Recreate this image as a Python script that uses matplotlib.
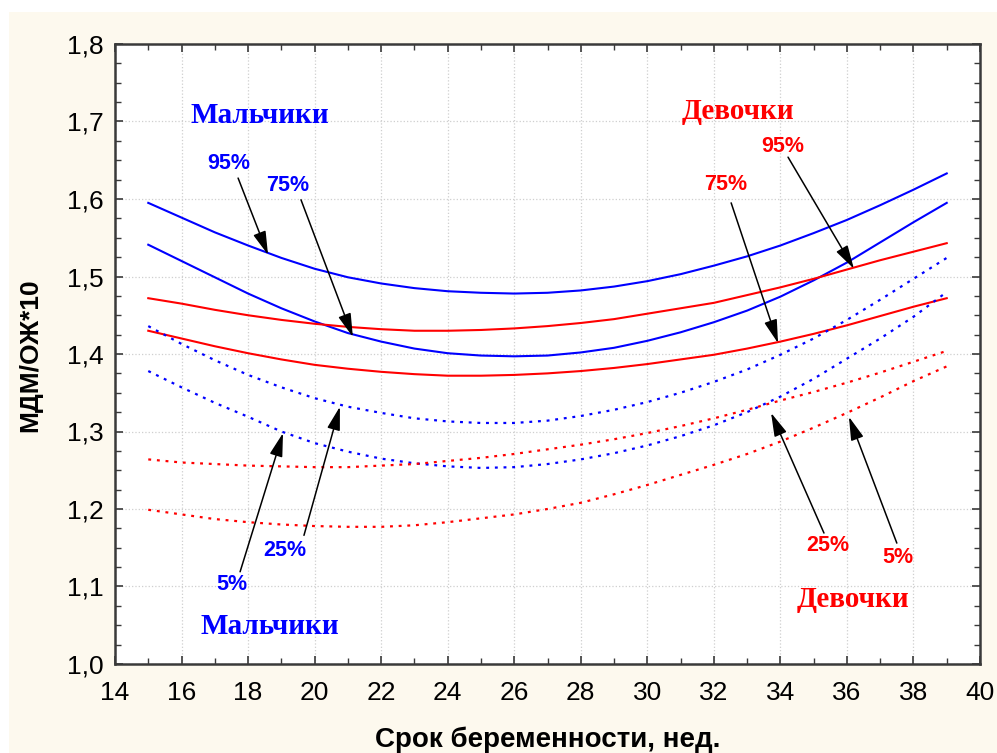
import matplotlib
matplotlib.use("Agg")
import matplotlib.pyplot as plt
from matplotlib.patches import Rectangle
from matplotlib.ticker import MultipleLocator, FuncFormatter

# gestational age, weeks
weeks = list(range(15, 40))

# boys (Мальчики) percentiles
boys_95 = [1.595, 1.576, 1.557, 1.540, 1.524, 1.510, 1.499, 1.491, 1.485, 1.481, 1.479, 1.478, 1.479,
           1.482, 1.487, 1.494, 1.503, 1.514, 1.526, 1.540, 1.556, 1.573, 1.592, 1.612, 1.633]
boys_75 = [1.541, 1.520, 1.499, 1.478, 1.459, 1.442, 1.427, 1.416, 1.407, 1.401, 1.398, 1.397, 1.398,
           1.402, 1.408, 1.417, 1.428, 1.441, 1.456, 1.474, 1.495, 1.518, 1.544, 1.570, 1.595]
boys_25 = [1.436, 1.413, 1.392, 1.373, 1.357, 1.343, 1.332, 1.324, 1.317, 1.313, 1.311, 1.311, 1.314,
           1.320, 1.328, 1.338, 1.350, 1.364, 1.380, 1.399, 1.420, 1.444, 1.470, 1.497, 1.524]
boys_5 = [1.378, 1.357, 1.337, 1.319, 1.300, 1.285, 1.274, 1.265, 1.259, 1.255, 1.253, 1.254, 1.258,
          1.264, 1.272, 1.282, 1.294, 1.308, 1.325, 1.345, 1.368, 1.394, 1.420, 1.448, 1.480]

# girls (Девочки) percentiles
girls_95 = [1.472, 1.465, 1.457, 1.450, 1.444, 1.439, 1.435, 1.432, 1.430, 1.430, 1.431, 1.433, 1.436,
            1.440, 1.445, 1.452, 1.459, 1.466, 1.476, 1.486, 1.497, 1.509, 1.521, 1.532, 1.543]
girls_75 = [1.430, 1.420, 1.410, 1.401, 1.393, 1.386, 1.381, 1.377, 1.374, 1.372, 1.372, 1.373, 1.375,
            1.378, 1.382, 1.387, 1.393, 1.399, 1.407, 1.416, 1.426, 1.437, 1.449, 1.461, 1.472]
girls_25 = [1.264, 1.260, 1.258, 1.256, 1.255, 1.254, 1.254, 1.256, 1.258, 1.262, 1.266, 1.271, 1.277,
            1.283, 1.290, 1.298, 1.307, 1.317, 1.328, 1.340, 1.351, 1.363, 1.376, 1.390, 1.404]
girls_5 = [1.199, 1.193, 1.187, 1.183, 1.180, 1.178, 1.177, 1.177, 1.179, 1.183, 1.188, 1.193, 1.200,
           1.208, 1.219, 1.231, 1.244, 1.257, 1.271, 1.287, 1.305, 1.324, 1.344, 1.365, 1.384]

BLUE = "#0000ff"
RED = "#ff0000"
SANS = "Liberation Sans"
SERIF = "Liberation Serif"

fig = plt.figure(figsize=(9.97, 7.53), dpi=100)
fig.patch.set_facecolor("white")
fig.patches.append(Rectangle((9 / 997, 0), 1 - 9 / 997, 741 / 753,
                             transform=fig.transFigure, facecolor="#fdf9ee",
                             edgecolor="none", zorder=-10))

ax = fig.add_axes([115 / 997, 1 - 664 / 753, 865 / 997, 620 / 753])
ax.set_facecolor("white")

dots = (0, (1.3, 2.6))
ax.plot(weeks, boys_95, color=BLUE, lw=1.5)
ax.plot(weeks, boys_75, color=BLUE, lw=1.5)
ax.plot(weeks, girls_95, color=RED, lw=1.5)
ax.plot(weeks, girls_75, color=RED, lw=1.5)
ax.plot(weeks, boys_25, color=BLUE, lw=1.6, linestyle=dots)
ax.plot(weeks, boys_5, color=BLUE, lw=1.6, linestyle=dots)
ax.plot(weeks, girls_25, color=RED, lw=1.6, linestyle=dots)
ax.plot(weeks, girls_5, color=RED, lw=1.6, linestyle=dots)

ax.set_xlim(14, 40)
ax.set_ylim(1.0, 1.8)
ax.xaxis.set_major_locator(MultipleLocator(2))
ax.xaxis.set_minor_locator(MultipleLocator(1))
ax.yaxis.set_major_locator(MultipleLocator(0.1))
ax.yaxis.set_minor_locator(MultipleLocator(0.025))
ax.yaxis.set_major_formatter(FuncFormatter(lambda v, p: f"{v:.1f}".replace(".", ",")))

ax.grid(True, which="major", color="#cfcfcf", linestyle=":", linewidth=0.9)
ax.set_axisbelow(True)

for s in ax.spines.values():
    s.set_color("#3a3a3a")
    s.set_linewidth(1.8)

ax.tick_params(which="both", direction="in", top=True, right=True,
               colors="#3a3a3a", labelcolor="black")
ax.tick_params(which="major", length=6, width=1.2, labelsize=19)
ax.tick_params(which="minor", length=4, width=1.0)
ax.tick_params(axis="x", which="major", pad=12)
ax.tick_params(axis="y", which="major", pad=8)
for lab in ax.get_xticklabels() + ax.get_yticklabels():
    lab.set_family(SANS)

fig.text(548 / 997, 1 - 740 / 753, "Срок беременности, нед.", ha="center", va="center",
         fontsize=20, fontweight="bold", family=SANS)
fig.text(30 / 997, 1 - 355 / 753, "МДМ/ОЖ*10", ha="center", va="center", rotation=90,
         fontsize=19, fontweight="bold", family=SANS)

# group titles
title_kw = dict(ha="center", va="center", fontsize=21, fontweight="bold", family=SERIF)
ax.text(18.36, 1.708, "Мальчики", color=BLUE, **title_kw)
ax.text(18.66, 1.048, "Мальчики", color=BLUE, **title_kw)
ax.text(32.73, 1.713, "Девочки", color=RED, **title_kw)
ax.text(36.18, 1.083, "Девочки", color=RED, **title_kw)

# percentile labels with arrows: (text, colour, label pos, arrow start, arrow tip)
labels = [
    ("95%", BLUE, (17.43, 1.646), (17.70, 1.627), (18.60, 1.528)),
    ("75%", BLUE, (19.20, 1.617), (19.59, 1.599), (21.15, 1.422)),
    ("5%", BLUE, (17.52, 1.103), (17.76, 1.119), (19.05, 1.298)),
    ("25%", BLUE, (19.11, 1.146), (19.68, 1.166), (20.76, 1.332)),
    ("95%", RED, (34.08, 1.668), (34.23, 1.654), (36.21, 1.510)),
    ("75%", RED, (32.37, 1.619), (32.52, 1.595), (33.93, 1.414)),
    ("25%", RED, (35.43, 1.153), (35.31, 1.169), (33.72, 1.324)),
    ("5%", RED, (37.53, 1.137), (37.50, 1.156), (36.06, 1.319)),
]
for txt, col, pos, start, tip in labels:
    ax.text(pos[0], pos[1], txt, color=col, ha="center", va="center",
            fontsize=15.5, fontweight="bold", family=SANS)
    ax.annotate("", xy=tip, xytext=start,
                arrowprops=dict(arrowstyle="-|>,head_length=0.9,head_width=0.25",
                                color="black", lw=1.1, mutation_scale=16,
                                shrinkA=0, shrinkB=0))

fig.savefig("out.png", dpi=100, facecolor=fig.get_facecolor())
